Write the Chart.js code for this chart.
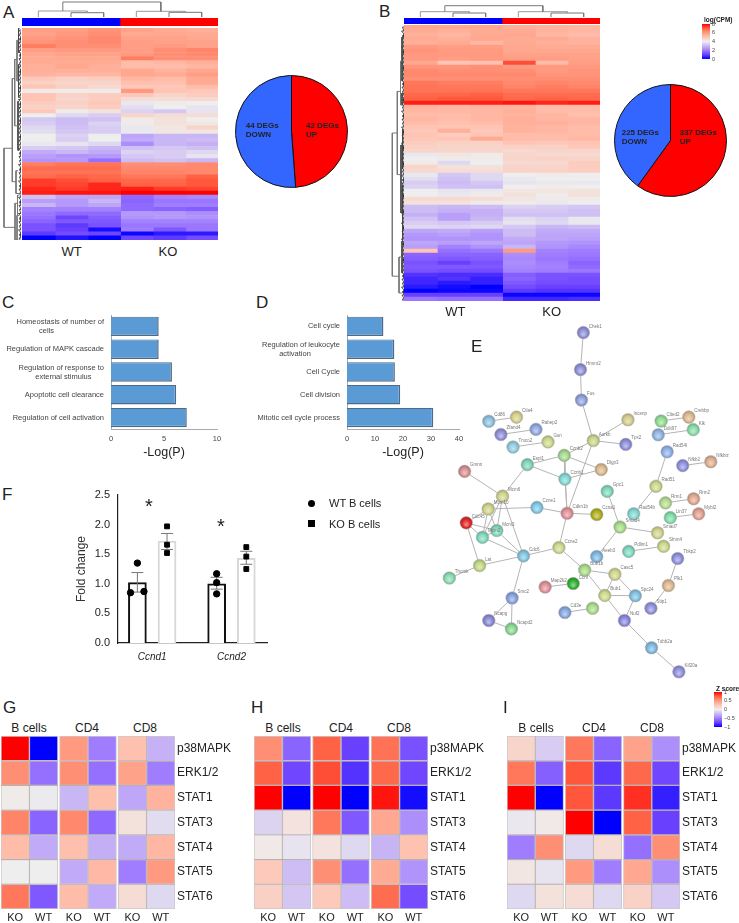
<!DOCTYPE html>
<html>
<head>
<meta charset="utf-8">
<title>Figure</title>
<script src="https://cdn.jsdelivr.net/npm/chart.js@4"></script>
<style>
    body { margin: 0; background: #fff; }
    #page { position: relative; width: 739px; height: 923px; overflow: hidden; background: #fff; font-family: "Liberation Sans", Arial, sans-serif; color: #222; }
    canvas { position: absolute; }
    .txt { position: absolute; white-space: nowrap; transform: translateY(-50%); }
    .mid { transform: translate(-50%, -50%); }
</style>
</head>
<body>
<div id="page"></div>
<script>
// Heatmap A, log(CPM): WT WT WT KO KO KO
const heatRowsA = [
    [5.9,5.9,6.1,5.8,5.6,5.5],[5.8,6.0,6.2,5.6,5.7,5.6],[6.0,6.1,6.3,5.8,5.8,5.7],[6.1,6.2,6.3,5.9,5.8,5.8],
    [6.5,6.2,6.2,5.9,6.0,5.8],[5.9,6.0,6.0,5.9,6.2,6.4],[5.7,5.8,5.8,6.0,6.2,6.3],[5.6,5.7,5.7,6.5,6.2,6.2],
    [5.6,5.6,5.6,5.2,5.3,5.5],[5.5,5.7,5.5,5.2,5.2,5.3],[5.5,5.5,5.5,5.7,5.4,5.7],[5.4,5.3,5.3,5.7,5.6,5.9],
    [4.9,4.7,4.8,5.3,5.2,5.6],[4.7,4.6,4.6,5.1,5.1,5.6],[5.0,4.7,4.5,4.9,4.9,5.2],[4.1,4.1,4.1,6.0,5.0,4.9],
    [5.0,4.7,4.8,4.9,4.6,4.8],[5.0,4.6,4.8,4.4,4.4,4.5],[4.8,4.7,4.9,3.9,4.1,4.0],[4.7,4.6,4.8,3.7,4.0,3.8],
    [4.9,4.1,4.3,3.5,3.3,3.8],[4.0,3.6,3.4,4.6,4.4,4.4],[3.3,3.1,3.2,4.1,4.3,4.0],[3.4,3.1,3.5,4.1,4.3,4.2],
    [3.6,3.2,3.4,3.9,4.2,4.6],[3.7,3.3,3.4,3.9,4.2,4.2],[4.0,3.5,4.0,2.7,3.0,3.0],[4.0,3.4,4.0,2.8,3.0,3.1],
    [3.9,3.8,3.6,2.3,3.0,2.9],[3.4,3.3,3.0,3.2,3.3,3.2],[2.8,3.0,2.8,3.5,3.4,3.6],[2.6,2.4,2.5,3.3,3.4,3.8],
    [2.4,2.5,1.8,3.1,3.2,3.0],
    [6.5,6.7,6.7,6.2,6.2,6.3],[6.8,6.8,6.8,6.3,6.3,6.3],[6.7,6.7,6.7,6.4,6.4,6.3],[6.8,7.0,6.9,6.6,6.6,7.0],
    [7.4,7.2,7.0,6.9,6.9,7.1],[7.4,7.3,7.6,7.0,7.0,7.1],[7.6,7.4,7.6,7.7,7.4,7.3],[7.7,7.8,7.8,8.0,8.0,8.0],
    [3.2,2.7,2.7,1.7,2.1,2.2],[2.6,2.5,3.0,1.6,1.9,1.9],[3.0,2.5,2.7,1.7,2.0,2.0],[2.1,2.1,2.1,1.7,1.6,1.5],
    [1.9,1.7,1.7,2.5,2.5,2.3],[1.8,1.1,1.5,2.4,2.5,2.4],[1.6,1.4,1.4,2.1,2.1,2.1],[1.3,0.9,1.3,1.9,1.9,1.9],
    [1.3,1.0,0.2,2.0,1.4,1.9],[0.9,1.2,1.1,0.1,0.4,0.4],[0.0,0.3,0.0,1.1,0.9,1.2]
];

// Heatmap B, log(CPM)
const heatRowsB = [
    [5.7,5.7,5.7,5.5,5.4,5.3],[5.6,5.5,5.6,5.6,5.4,5.3],[5.5,5.3,5.6,5.7,5.3,5.2],[5.6,5.5,5.7,5.6,5.6,5.4],
    [5.5,5.6,5.3,5.6,5.5,5.4],[6.0,5.9,5.9,5.7,5.6,5.6],[6.1,6.0,6.0,5.7,5.7,5.7],[6.0,6.0,6.0,5.8,5.8,5.8],
    [6.0,5.9,6.0,5.9,5.9,5.8],[5.7,5.0,5.1,7.2,5.2,5.9],[6.1,6.1,6.2,6.0,6.0,6.0],[6.3,6.2,6.2,6.2,6.0,6.1],
    [6.3,6.3,6.3,6.3,6.1,6.1],[6.2,6.2,6.2,6.2,6.2,6.2],[6.6,6.5,6.5,6.3,6.4,6.3],[6.7,6.6,6.6,6.4,6.5,6.4],
    [6.7,6.7,6.7,6.6,6.6,6.6],[6.9,6.9,7.0,6.8,6.8,6.8],[7.0,7.1,7.1,6.9,7.0,6.9],[7.7,7.7,7.7,7.8,7.6,7.7],
    [5.4,5.3,5.4,5.4,5.2,5.2],[5.3,5.3,5.3,5.5,5.2,5.2],[5.2,5.2,5.3,5.4,5.3,5.1],[5.3,5.2,5.3,5.5,5.3,5.3],
    [5.2,5.1,5.2,5.5,5.5,5.3],[5.0,5.0,5.0,5.4,5.3,5.2],[4.9,5.5,4.9,5.4,5.3,5.2],[5.0,4.8,5.0,5.2,5.2,5.2],
    [4.9,5.0,5.6,5.2,5.2,5.3],[4.8,4.7,4.7,5.0,4.9,5.0],[4.7,4.6,4.6,4.7,4.7,4.9],[4.6,4.6,4.6,4.5,4.6,4.6],
    [3.9,4.2,4.1,4.6,4.5,4.5],[4.0,4.1,4.1,4.6,4.7,4.6],[4.1,3.6,4.0,4.5,4.5,4.8],[4.6,4.3,4.3,4.6,4.6,4.8],
    [4.5,4.4,4.4,4.7,4.7,4.8],
    [3.9,3.3,3.6,4.0,4.1,4.0],[3.7,3.2,3.6,3.9,4.0,4.0],[3.4,3.1,3.3,3.8,3.9,3.9],[3.5,3.2,3.2,4.0,4.1,4.0],
    [4.0,3.8,3.9,4.2,4.2,4.3],[4.0,3.9,4.1,4.3,4.1,4.3],[4.5,4.5,4.4,4.2,4.1,4.1],[4.3,4.3,4.1,4.1,3.9,4.0],
    [3.1,3.0,3.1,3.5,3.4,3.3],[3.1,2.9,2.9,3.3,3.3,3.2],[2.9,2.6,2.9,3.2,3.2,3.2],[3.2,2.6,3.0,3.7,3.5,3.9],
    [3.4,3.3,3.4,3.8,3.6,3.9],[3.6,3.5,3.6,3.3,3.0,3.1],[2.7,2.8,2.6,3.1,2.8,2.8],[2.5,2.6,2.4,3.1,2.7,2.7],
    [2.4,2.4,2.4,2.8,2.7,2.6],[2.7,2.6,2.7,2.7,2.5,2.4],[2.6,2.1,2.4,3.0,2.4,2.2],[5.0,1.8,1.9,6.0,2.1,2.0],
    [1.6,1.6,1.6,2.3,2.0,1.9],[1.5,1.4,1.5,2.2,1.9,1.8],[1.3,1.0,1.3,2.3,2.0,1.6],[1.4,1.4,1.4,2.2,2.1,1.7],
    [1.3,1.2,1.2,2.1,2.0,1.9],[0.8,0.7,0.7,1.5,1.3,1.3],[0.6,0.8,0.5,1.6,1.3,1.2],[0.6,0.4,0.5,1.4,1.2,1.2],
    [0.4,0.2,0.0,1.2,1.0,1.0],[0.0,0.1,0.1,0.9,0.8,0.8],[1.0,1.0,1.0,0.1,0.1,0.1],[1.9,1.8,1.8,0.6,0.6,0.7]
];

// Sample dendrograms above the heatmaps: root, WT, WT inner, KO, KO inner
const colTreeA = [15, 6, 4.3, 5.7, 4.7];
const colTreeB = [11.3, 5.3, 4, 5.3, 4];

// Row dendrograms: [link height, upper row, upper child height, lower row, lower child height]
const rowTreeA = [
    [17,29.5,8.7,48.9,6],[8.7,12.4,6.3,37.7,5],[6.3,7.7,4,24,3],[6,43,4,52,3],[5,35,3,40.6,2],
    [4,3,2.5,13,2.5],[3,18,2,30,2],[3.5,41,2,46,2],[4,46,2,52,2.5],[2.5,0,1,6,1],[2.5,9,1,17,1]
];
const rowTreeB = [
    [11.7,27,6.7,62.8,5],[6.7,16.6,3.5,37.4,3],[3.5,9,2,20,2],[5,58,2,67,2],[3,30,1.5,47,1.5],
    [2,3,1,14,1],[2,17,1,20,1],[1.5,26,1,36,1],[1.5,40,1,54,1],[2,54,1,62,1]
];

// Pie counts
const pieLabels = ['UP', 'DOWN'];
const pieA = [42, 44];
const pieB = [337, 225];

// Panels C and D
const goLabelsC = [
    ['Homeostasis of number of', 'cells\u00a0\u00a0\u00a0\u00a0\u00a0\u00a0\u00a0\u00a0\u00a0\u00a0\u00a0\u00a0\u00a0\u00a0\u00a0\u00a0\u00a0\u00a0\u00a0\u00a0\u00a0\u00a0\u00a0\u00a0'],
    'Regulation of MAPK cascade',
    ['Regulation of response to', 'external stimulus\u00a0\u00a0\u00a0\u00a0\u00a0\u00a0'],
    'Apoptotic cell clearance',
    'Regulation of cell activation'
];
const goValuesC = [4.5, 4.5, 5.75, 6.15, 7.15];
const goLabelsD = [
    'Cell cycle',
    ['Regulation of leukocyte', 'activation\u00a0\u00a0\u00a0\u00a0\u00a0\u00a0\u00a0\u00a0\u00a0\u00a0\u00a0\u00a0\u00a0\u00a0'],
    'Cell Cycle',
    'Cell division',
    'Mitotic cell cycle process'
];
const goValuesD = [13, 16.9, 17.1, 19, 30.8];

// Panel F
const geneNames = ['Ccnd1', 'Ccnd2'];
const wtMeans = [1.02, 1.0];
const koMeans = [1.72, 1.43];
const wtErrLow = [0.86, 0.91];
const wtErrHigh = [1.19, 1.11];
const koErrLow = [1.58, 1.33];
const koErrHigh = [1.85, 1.55];
const wtPoints = [[1.35, 0.85, 0.87], [1.17, 1.02, 0.83]];
const koPoints = [[1.97, 1.66, 1.52], [1.62, 1.46, 1.25]];

// Panel E, network in figure units
const netNames = ['Chek1','Hmmr2','Fus','Incenp','Aurkb','Tpx2','Cd86','Ctla4','Zfand4','Rabep2','Tmco2','Gsn',
    'Ccnb2','Espl1','Ccnb1','Dlgp3','Gmnn','Mcm6','Gpc1','Cited2','Crebbp','Ddit97','Klk','Rad54l','Nfkb2','Nfkbiz',
    'Rad51','Rrm1','Rrm2','Mcm10','Cdc45','Mcm3','Mcm2','Cdc6','Ccne1','Cdkn1b','Ccna1','Rad54b','Smad4','Smad7',
    'Lin37','Mybl2','Pdlim1','Sfmn4','Aeeb3','Bub1b','Ccnf','Map2k2','Casc5','Bub1','Spc24','Nuf2','Cd3e','',
    'Tubb2a','Kif20a','Tbkp2','Plk1','Stip1','Smc2','Ncapg','Ncapd2','Lat','Thomk','Ccne2'];
const netX = [583.3,580.3,581.3,630,593.7,627.7,484.3,513.3,497,533.7,509.7,546.3,
    563.3,524.7,564,602,459,498.7,608.3,664.7,693.7,661.7,698.3,671,687.3,716.7,
    659.3,669.3,698.7,483.7,460.7,492.7,477.7,520.7,534.7,566.3,597.3,636,621.7,661,
    674.3,704,630.7,667.3,597.3,584.7,572.7,543.3,616.3,605.7,637.7,626.3,564,593,
    654.7,683.3,682,672.3,654,508.7,484.3,508,474.7,443,557.7];
const netY = [326.3,364.7,396.3,416.7,438.3,442.3,418.3,414,432,426.7,445,439.7,
    453.7,463.3,478.3,468.3,470.3,496,491,418,414,432.3,427,450,464.3,460.3,
    485.7,503,498.7,509.3,523.7,531.7,538.7,558,507.7,513.7,515,514.3,528,534,
    518.3,514.3,553.3,548,558.7,572.7,586.7,590.3,577,599,599.3,625,616.7,612.3,
    653.3,678.3,560.7,588.7,612.3,601.7,625,633.7,568,581,549.3];
const netEdges = [
    ['Chek1','Hmmr2'],['Hmmr2','Fus'],['Fus','Aurkb'],['Aurkb','Incenp'],['Aurkb','Tpx2'],['Aurkb','Ccnb2'],['Aurkb','Cdkn1b'],
    ['Ccnb2','Espl1'],['Ccnb2','Ccnb1'],['Ccnb2','Dlgp3'],['Espl1','Ccnb1'],['Ccnb1','Dlgp3'],['Ccnb1','Cdkn1b'],['Ccnb2','Cdkn1b'],
    ['Espl1','Mcm6'],['Gmnn','Mcm6'],['Cd86','Ctla4'],['Zfand4','Rabep2'],['Tmco2','Gsn'],['Cited2','Crebbp'],['Ddit97','Klk'],
    ['Rad54l','Rad51'],['Nfkb2','Nfkbiz'],['Rrm1','Rrm2'],['Lin37','Mybl2'],['Pdlim1','Sfmn4'],['Mcm6','Mcm10'],['Mcm6','Mcm3'],
    ['Mcm6','Cdc6'],['Mcm6','Mcm2'],['Mcm10','Cdc45'],['Mcm10','Mcm3'],['Mcm10','Mcm2'],['Mcm10','Ccne1'],['Mcm3','Mcm2'],
    ['Mcm3','Cdc6'],['Mcm2','Cdc6'],['Cdc45','Mcm2'],['Cdc45','Mcm3'],['Cdc45','Lat'],['Lat','Cdc6'],['Lat','Thomk'],['Cdc6','Smc2'],
    ['Cdc6','Ccne2'],['Ccne1','Cdkn1b'],['Cdkn1b','Ccna1'],['Cdkn1b','Ccne2'],['Ccne2','Bub1b'],['Bub1b','Casc5'],['Bub1b','Bub1'],
    ['Casc5','Bub1'],['Casc5','Spc24'],['Bub1','Spc24'],['Bub1','Nuf2'],['Spc24','Nuf2'],['Nuf2','Tubb2a'],['Tubb2a','Kif20a'],
    ['Tbkp2','Plk1'],['Plk1','Stip1'],['Smc2','Ncapg'],['Smc2','Ncapd2'],['Ncapg','Ncapd2'],['Cd3e',''],['Map2k2','Ccnf'],
    ['Gpc1','Smad4'],['Rad54b','Rad51'],['Smad4','Smad7'],['Smad4','Aeeb3']
];

// Panels G, H, I: rows, and z scores KO WT KO WT KO WT
const pathways = ['p38MAPK', 'ERK1/2', 'STAT1', 'STAT3', 'STAT4', 'STAT5', 'STAT6'];
const sampleNames = ['KO', 'WT', 'KO', 'WT', 'KO', 'WT'];
const cellGroups = ['B cells', 'CD4', 'CD8'];
const zRowsG = [
    [1,-1,0.5,-0.5,0.27,-0.27],[0.55,-0.55,0.55,-0.55,0.45,-0.5],[0.02,-0.02,-0.25,0.28,-0.32,0.35],[0.6,-0.6,0.58,-0.58,0.08,-0.08],
    [0.3,-0.3,0.28,-0.28,-0.3,0.33],[0,0,-0.3,0.32,-0.5,0.5],[0.65,-0.65,0.3,-0.3,0.1,-0.1]
];
const zRowsH = [
    [0.55,-0.6,0.75,-0.75,0.68,-0.68],[0.75,-0.72,0.8,-0.8,0.72,-0.72],[1,-1,1,-1,0.95,-0.95],[-0.12,0.07,0.65,-0.65,0.42,-0.42],
    [0.03,-0.05,0.07,-0.1,-0.26,0.26],[0.22,-0.22,0.55,-0.55,0.4,-0.4],[0.18,-0.18,0.22,-0.22,0.7,-0.7]
];
const zRowsI = [
    [0.15,-0.15,0.65,-0.6,0.45,-0.42],[0.65,-0.62,0.78,-0.78,0.72,-0.72],[1,-1,0.78,-0.78,0.88,-0.88],[-0.03,0.03,1,-1,0.75,-0.75],
    [-0.5,0.55,-0.1,0.1,-0.55,0.55],[0.05,-0.05,0.5,-0.5,0.42,-0.42],[-0.1,0.08,0.1,-0.1,0.17,-0.17]
];

// Chart.js defaults
Chart.defaults.font.family = '"Liberation Sans", Arial, sans-serif';
Chart.defaults.animation = false;
Chart.defaults.responsive = false;
Chart.defaults.plugins.legend.display = false;
Chart.defaults.plugins.tooltip.enabled = false;

const page = document.getElementById('page');

// Make a canvas at a figure position
function place(x, y, w, h) {
    const c = document.createElement('canvas');
    c.width = w;
    c.height = h;
    c.style.left = x + 'px';
    c.style.top = y + 'px';
    page.appendChild(c);
    return c;
}

// Real text label centred vertically on y
function text(str, x, y, size, extra = {}) {
    const d = document.createElement('div');
    d.className = 'txt' + (extra.mid ? ' mid' : '');
    d.textContent = str;
    d.style.left = x + 'px';
    d.style.top = y + 'px';
    d.style.fontSize = size + 'px';
    if (extra.bold) d.style.fontWeight = 'bold';
    if (extra.color) d.style.color = extra.color;
    page.appendChild(d);
}

// Scales should not grow padding for their first and last labels
function fixBox(s, size) {
    if (s.isHorizontal()) s.height = size; else s.width = size;
    s.paddingLeft = s.paddingRight = s.paddingTop = s.paddingBottom = 0;
}

// Colour ramp for z in -1..1
const rampStops = [
    [-1, [0,0,255]], [-0.75, [106,64,255]], [-0.5, [160,124,255]], [-0.25, [201,182,245]], [0, [238,238,238]],
    [0.25, [255,196,179]], [0.5, [255,154,128]], [0.75, [255,98,68]], [1, [255,0,0]]
];
function zColor(z) {
    z = Math.max(-1, Math.min(1, z));
    for (let i = 0; i < rampStops.length - 1; i++) {
        const a = rampStops[i], b = rampStops[i + 1];
        if (z <= b[0]) {
            const t = (z - a[0]) / (b[0] - a[0]);
            const c = a[1].map((v, k) => Math.round(v + (b[1][k] - v) * t));
            return `rgb(${c[0]},${c[1]},${c[2]})`;
        }
    }
    return 'rgb(255,0,0)';
}
const cpmColor = v => zColor((v - 4) / 4);

// Heat grid as floating horizontal bars, one dataset per column
function heatChart(canvas, rows, colorOf, opts = {}) {
    const groupGap = opts.groupGap || 0;
    const colStart = c => c + Math.floor(c / 2) * groupGap;
    const cols = rows[0].length;
    const total = colStart(cols - 1) + 1;
    const datasets = [];
    for (let c = 0; c < cols; c++) {
        datasets.push({
            data: rows.map(() => [colStart(c), colStart(c) + 1 + (opts.cellBorder ? 0 : 0.02)]),
            backgroundColor: rows.map(r => colorOf(r[c])),
            borderColor: opts.cellBorder || 'transparent',
            borderWidth: opts.cellBorder ? 1 : 0,
            borderSkipped: false,
            barPercentage: 1,
            categoryPercentage: 1,
            grouped: false
        });
    }
    const labelled = !!opts.rowLabels;
    return new Chart(canvas, {
        type: 'bar',
        data: { labels: opts.rowLabels || rows.map((r, i) => i), datasets },
        options: {
            indexAxis: 'y',
            layout: { padding: 0 },
            scales: {
                x: {
                    type: 'linear', min: 0, max: total,
                    display: labelled,
                    grid: { display: false, drawTicks: false }, border: { display: false },
                    afterBuildTicks: s => { s.ticks = datasets.map((d, c) => ({ value: colStart(c) + 0.5 })); },
                    afterFit: s => { if (labelled) fixBox(s, 19); },
                    ticks: {
                        autoSkip: false, maxRotation: 0, padding: 2, color: '#222', font: { size: 11 },
                        callback: (v, i) => sampleNames[i]
                    }
                },
                y: {
                    position: 'right',
                    display: labelled,
                    grid: { display: false, drawTicks: false }, border: { display: false },
                    afterFit: s => { if (labelled) fixBox(s, 59); },
                    ticks: { autoSkip: false, padding: 2, color: '#222', font: { size: 12 } }
                }
            }
        }
    });
}

// Blue and red group strip over the heatmaps
function groupStrip(canvas) {
    return new Chart(canvas, {
        type: 'bar',
        data: {
            labels: [''],
            datasets: [
                { data: [[0, 1]], backgroundColor: '#0000ff', grouped: false, barPercentage: 1, categoryPercentage: 1 },
                { data: [[1, 2]], backgroundColor: '#ff0000', grouped: false, barPercentage: 1, categoryPercentage: 1 }
            ]
        },
        options: {
            indexAxis: 'y',
            scales: { x: { type: 'linear', min: 0, max: 2, display: false }, y: { display: false } }
        }
    });
}

// Line-only scatter with hidden axes
function lineChart(canvas, paths, xScale, yScale, color, width) {
    return new Chart(canvas, {
        type: 'scatter',
        data: {
            datasets: paths.map(p => ({
                data: p.pts || p,
                showLine: true,
                pointRadius: 0,
                borderColor: p.color || color,
                borderWidth: p.width || width,
                clip: false
            }))
        },
        options: {
            scales: {
                x: Object.assign({ type: 'linear', display: false }, xScale),
                y: Object.assign({ type: 'linear', display: false }, yScale)
            }
        }
    });
}

function colTree(canvas, t) {
    const wtMid = (0.5 + 2) / 2, koMid = (3.5 + 5) / 2;
    const u = (x1, h1, x2, h2, top) => [{x:x1,y:h1},{x:x1,y:top},{x:x2,y:top},{x:x2,y:h2}];
    const paths = [
        { pts: u(wtMid, t[1], koMid, t[3], t[0]), color: '#777' },
        { pts: u(0.5, 0, 2, t[2], t[1]), color: '#999' },
        { pts: u(1.5, 0, 2.5, 0, t[2]), color: '#777' },
        { pts: u(3.5, 0, 5, t[4], t[3]), color: '#999' },
        { pts: u(4.5, 0, 5.5, 0, t[4]), color: '#777' }
    ];
    return lineChart(canvas, paths, { min: 0, max: 6 }, { min: 0, max: canvas.height }, '#777', 1);
}

function rowTree(canvas, links, rowCount, maxH) {
    const paths = links.map(l => ({
        pts: [{x:l[2],y:l[1]},{x:l[0],y:l[1]},{x:l[0],y:l[3]},{x:l[4],y:l[3]}],
        color: l[0] > 3 ? '#777' : '#444'
    }));
    // dense leaf comb along the heatmap edge
    const comb = [];
    const reach = [1.5, 2.5, 1, 2];
    for (let r = 0; r < rowCount; r++) {
        comb.push({x:0,y:r+0.5},{x:reach[r % 4],y:r+0.5},{x:0.8,y:r+1});
    }
    paths.push({ pts: comb, color: '#222', width: 0.8 });
    return lineChart(canvas, paths, { min: 0, max: maxH, reverse: true }, { min: 0, max: rowCount, reverse: true }, '#777', 1);
}

function pieChart(canvas, values) {
    return new Chart(canvas, {
        type: 'pie',
        data: {
            labels: pieLabels,
            datasets: [{ data: values, backgroundColor: ['#ff0000', '#3366ff'], borderColor: '#111', borderWidth: 1 }]
        },
        options: { layout: { padding: 1 } }
    });
}

// Panels C and D
function goBars(canvas, labels, values, maxX, step, axisW, padRight) {
    return new Chart(canvas, {
        type: 'bar',
        data: {
            labels,
            datasets: [{
                data: values,
                backgroundColor: '#5b9bd5',
                borderColor: '#4d6a88',
                borderWidth: { top: 1, right: 1.5, bottom: 1.5, left: 0 },
                borderSkipped: false,
                barPercentage: 0.85,
                categoryPercentage: 1
            }]
        },
        options: {
            indexAxis: 'y',
            layout: { padding: { right: padRight, top: 0, bottom: 0, left: 0 } },
            scales: {
                x: {
                    min: 0, max: maxX,
                    grid: { display: false, drawTicks: true, tickLength: 2 },
                    border: { color: '#aaa', width: 1 },
                    afterFit: s => fixBox(s, 31),
                    ticks: { stepSize: step, color: '#444', font: { size: 7.5 }, padding: 3, maxRotation: 0 },
                    title: { display: true, text: '-Log(P)', color: '#222', font: { size: 12.5 }, padding: { top: 2, bottom: 0 } }
                },
                y: {
                    grid: { display: false, drawTicks: false },
                    border: { color: '#aaa', width: 1 },
                    afterFit: s => fixBox(s, axisW),
                    ticks: { autoSkip: false, color: '#444', font: { size: 7.5 }, padding: 7 }
                }
            }
        }
    });
}

function colorBar(canvas, min, max, step) {
    return new Chart(canvas, {
        type: 'bar',
        data: {
            labels: [''],
            datasets: [{
                data: [[min, max]],
                barPercentage: 1,
                categoryPercentage: 1,
                backgroundColor: ctx => {
                    const a = ctx.chart.chartArea;
                    if (!a) return '#eee';
                    const g = ctx.chart.ctx.createLinearGradient(0, a.bottom, 0, a.top);
                    rampStops.forEach(s => g.addColorStop((s[0] + 1) / 2, zColor(s[0])));
                    return g;
                }
            }]
        },
        options: {
            layout: { padding: { top: 3, bottom: 3 } },
            scales: {
                x: { display: false },
                y: {
                    position: 'right', min, max,
                    grid: { display: false, drawTicks: false }, border: { display: false },
                    afterFit: s => fixBox(s, canvas.width - 8),
                    ticks: { autoSkip: false, stepSize: step, color: '#444', font: { size: 5.5 }, padding: 2, callback: v => String(v).replace('-', '\u2212') }
                }
            }
        }
    });
}

// Panel A
rowTree(place(3, 28, 18, 212), rowTreeA, heatRowsA.length, 18);
colTree(place(22, 1, 196, 16), colTreeA);
groupStrip(place(22, 18, 196, 8));
heatChart(place(22, 28, 196, 212), heatRowsA, cpmColor);
pieChart(place(234, 74, 115, 115), pieA);

// Panel B
rowTree(place(390, 25, 14, 276), rowTreeB, heatRowsB.length, 14);
colTree(place(404, 4, 196, 13), colTreeB);
groupStrip(place(404, 18, 196, 6));
heatChart(place(404, 25, 196, 276), heatRowsB, cpmColor);
pieChart(place(613, 83, 115, 115), pieB);
colorBar(place(702, 21, 24, 41), 0, 8, 2);

// Panels C and D
goBars(place(0, 315, 222, 145), goLabelsC, goValuesC, 10, 5, 111, 5);
goBars(place(222, 315, 243, 145), goLabelsD, goValuesD, 40, 10, 125, 6);

// Panel F
const barShift = 0.187;
const jitter = [[0, -0.087, 0.083], [0, 0, 0]];
const flat = (fn) => geneNames.flatMap((g, i) => fn(i));
const whisker = (x, lo, hi) => ({
    type: 'scatter',
    data: [{ x, y: lo }, { x, y: hi }],
    showLine: true,
    borderColor: '#777',
    borderWidth: 1,
    pointStyle: 'line',
    pointRadius: 6,
    pointBorderColor: '#777',
    pointBorderWidth: 1,
    order: 1
});
new Chart(place(74, 488, 200, 185), {
    type: 'bar',
    data: {
        datasets: [
            {
                type: 'scatter',
                data: flat(i => wtPoints[i].map((v, k) => ({ x: i - barShift + jitter[i][k], y: v }))),
                pointStyle: 'circle', pointRadius: 3.2, backgroundColor: '#000', borderColor: '#000', order: 0
            },
            {
                type: 'scatter',
                data: flat(i => koPoints[i].map(v => ({ x: i + barShift, y: v }))),
                pointStyle: 'rect', pointRadius: 3.4, backgroundColor: '#000', borderColor: '#000', order: 0
            },
            whisker(-barShift, wtErrLow[0], wtErrHigh[0]),
            whisker(barShift, koErrLow[0], koErrHigh[0]),
            whisker(1 - barShift, wtErrLow[1], wtErrHigh[1]),
            whisker(1 + barShift, koErrLow[1], koErrHigh[1]),
            {
                data: wtMeans.map((v, i) => ({ x: i - barShift, y: v })),
                backgroundColor: '#fff', borderColor: '#111', borderWidth: 2, barThickness: 18, grouped: false, order: 2
            },
            {
                data: koMeans.map((v, i) => ({ x: i + barShift, y: v })),
                backgroundColor: '#fff', borderColor: '#d8d8d8', borderWidth: 2, barThickness: 18, grouped: false, order: 2
            }
        ]
    },
    options: {
        layout: { padding: { top: 5, right: 5, bottom: 0, left: 0 } },
        scales: {
            x: {
                type: 'linear', min: -0.4315, max: 1.448, offset: false,
                grid: { display: false, tickLength: 5, drawTicks: true, tickColor: '#222' },
                border: { color: '#222', width: 1.2 },
                afterBuildTicks: s => { s.ticks = geneNames.map((g, i) => ({ value: i })); },
                afterFit: s => fixBox(s, 30),
                ticks: { autoSkip: false, maxRotation: 0, color: '#222', padding: 3, font: { size: 10, style: 'italic' }, callback: (v, i) => geneNames[i] }
            },
            y: {
                min: 0, max: 2.5,
                grid: { display: false, tickLength: 6, tickColor: '#222' },
                border: { color: '#222', width: 1.2 },
                afterFit: s => fixBox(s, 44),
                ticks: { stepSize: 0.5, color: '#222', padding: 2, font: { size: 11 }, callback: v => v.toFixed(1) },
                title: { display: true, text: 'Fold change', color: '#333', font: { size: 12 }, padding: 0 }
            }
        }
    }
});

// Panel E
const netTints = ['#8f8fd8','#8f8fd8','#8fa0dc','#d6cc8f','#c8d48a','#8f8fdc','#8fc0e0','#d6d08a','#8f8fd8','#90a8e0','#8fcce0','#ccd88a',
    '#a4d88c','#80d4bc','#80d8d4','#dcb88c','#d89090','#d0d48a','#80d8bc','#90dc90','#dcb890','#8fb4e0','#88dca8','#8fb0e8','#8f8fe0','#dcb090',
    '#ccd88a','#b4dc8c','#e0a890','#d0d48a','#e02828','#80d8bc','#80d8bc','#80c4e0','#80c8e8','#e09098','#b0b020','#80d8d0','#a8dc88','#d0d48a',
    '#80dca8','#e0a090','#80d8c0','#ccd88a','#80b8e0','#a8dc88','#30b030','#e09098','#d0d48a','#ccd88a','#80c0e0','#8888e0','#88a8e0','#a8dc88',
    '#80b8e0','#9090dc','#9090dc','#dcb890','#9090dc','#88a0e0','#8888d8','#88d890','#c0d880','#88dcb0','#ccd88a'];
// Mix a hex colour toward white (t > 0) or black (t < 0)
function shade(hex, t) {
    const n = parseInt(hex.slice(1), 16);
    const ch = [n >> 16, (n >> 8) & 255, n & 255].map(v => Math.round(t > 0 ? v + (255 - v) * t : v * (1 + t)));
    return `rgb(${ch[0]},${ch[1]},${ch[2]})`;
}
const nodeLabels = {
    id: 'nodeLabels',
    afterDatasetsDraw(chart) {
        const { ctx, scales } = chart;
        ctx.save();
        ctx.font = '4.5px "Liberation Sans", Arial, sans-serif';
        ctx.fillStyle = '#777';
        netNames.forEach((n, i) => {
            if (n) ctx.fillText(n, scales.x.getPixelForValue(netX[i]) + 5.5, scales.y.getPixelForValue(netY[i]) - 5);
        });
        ctx.restore();
    }
};
new Chart(place(430, 310, 309, 380), {
    type: 'scatter',
    data: {
        datasets: [{
            data: netNames.map((n, i) => ({ x: netX[i], y: netY[i] })),
            pointRadius: 6.3,
            borderWidth: 0.6,
            pointBorderColor: '#b8b8b8',
            pointBackgroundColor: c => {
                const i = c.dataIndex;
                if (i === undefined) return '#ccc';
                const px = c.chart.scales.x.getPixelForValue(netX[i]);
                const py = c.chart.scales.y.getPixelForValue(netY[i]);
                if (!isFinite(px) || !isFinite(py)) return netTints[i];
                const g = c.chart.ctx.createRadialGradient(px, py + 2, 0.5, px, py, 6.3);
                g.addColorStop(0, shade(netTints[i], 0.45));
                g.addColorStop(0.6, netTints[i]);
                g.addColorStop(1, shade(netTints[i], -0.22));
                return g;
            }
        }].concat(netEdges.map(e => ({
            data: e.map(n => ({ x: netX[netNames.indexOf(n)], y: netY[netNames.indexOf(n)] })),
            showLine: true,
            pointRadius: 0,
            borderColor: '#b4b4b4',
            borderWidth: 1
        })))
    },
    options: {
        scales: {
            x: { type: 'linear', min: 430, max: 739, display: false },
            y: { type: 'linear', min: 310, max: 690, reverse: true, display: false }
        }
    },
    plugins: [nodeLabels]
});
colorBar(place(714, 689, 24, 41), -1, 1, 0.5);

// Panels G, H, I
const edgeColor = 'rgba(90,70,70,0.3)';
heatChart(place(1, 736, 233, 192), zRowsG, zColor, { groupGap: 0.06, cellBorder: edgeColor, rowLabels: pathways });
heatChart(place(254, 736, 233, 192), zRowsH, zColor, { groupGap: 0.06, cellBorder: edgeColor, rowLabels: pathways });
heatChart(place(507, 736, 232, 192), zRowsI, zColor, { groupGap: 0.06, cellBorder: edgeColor, rowLabels: pathways });

// Text that sits outside the plots
[['A',3,13],['B',379,12],['C',2,303],['D',256,303],['E',471,347],['F',2,495],['G',3,708],['H',251,708],['I',503,708]]
    .forEach(l => text(l[0], l[1], l[2], 17));
text('WT', 71.7, 250.7, 13, { mid: true });
text('KO', 168, 250.7, 13, { mid: true });
text('WT', 455.3, 310.7, 13, { mid: true });
text('KO', 551.7, 310.7, 13, { mid: true });
text('44 DEGs', 245.7, 125, 8, { bold: true });
text('DOWN', 245.7, 134.3, 8, { bold: true });
text('42 DEGs', 306, 125, 8, { bold: true });
text('UP', 306, 134.3, 8, { bold: true });
text('225 DEGs', 621.7, 131.7, 8, { bold: true });
text('DOWN', 621.7, 140.7, 8, { bold: true });
text('337 DEGs', 679.7, 131.7, 8, { bold: true });
text('UP', 679.7, 140.7, 8, { bold: true });
text('log(CPM)', 704, 19, 6.5, { bold: true });
text('Z score', 716, 688, 6.5, { bold: true });
text('*', 149, 506, 20, { mid: true });
text('*', 221, 526, 20, { mid: true });
[0, 254, 507].forEach(left => {
    cellGroups.forEach((g, i) => text(g, left + 29 + i * 58, 728, 12, { mid: true }));
});

// Panel F legend
function legendRow(label, y, round) {
    const m = document.createElement('div');
    m.style.cssText = `position:absolute;left:${308}px;top:${y - 3.5}px;width:7px;height:7px;background:#000;` + (round ? 'border-radius:50%;' : '');
    page.appendChild(m);
    text(label, 329, y, 11);
}
legendRow('WT B cells', 503, true);
legendRow('KO B cells', 523.5, false);
</script>
</body>
</html>
